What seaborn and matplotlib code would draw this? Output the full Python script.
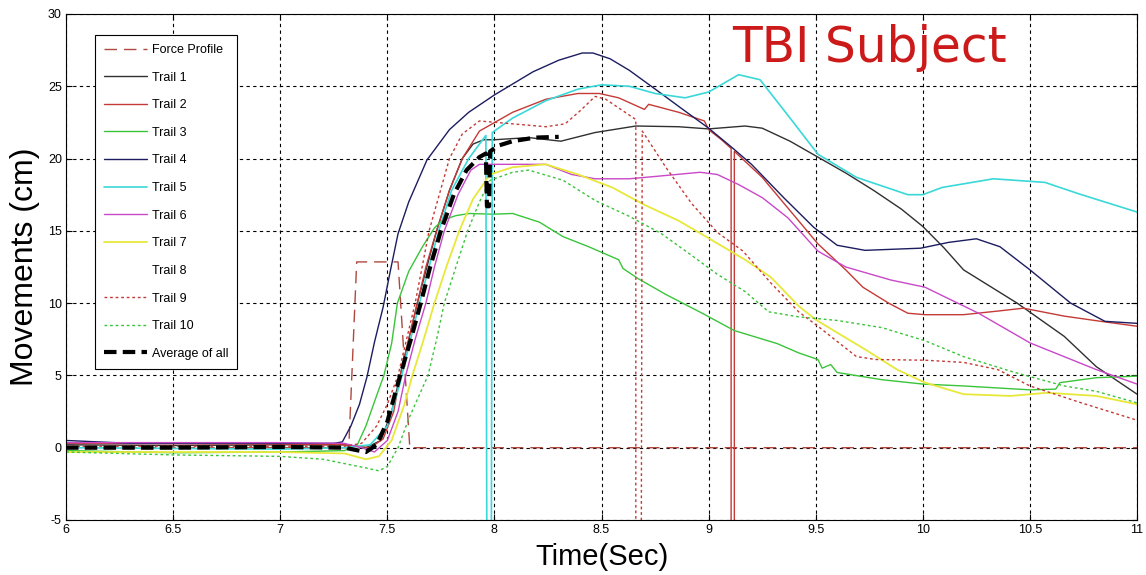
import matplotlib
matplotlib.use('Agg')
import matplotlib.pyplot as plt
import pandas as pd
import seaborn as sns
from matplotlib.ticker import FormatStrFormatter

sns.set_style('ticks')
plt.rcParams['font.family'] = ['Liberation Sans', 'DejaVu Sans']
plt.rcParams['axes.unicode_minus'] = False
for k in ['text.color', 'axes.labelcolor', 'xtick.color', 'ytick.color']:
    plt.rcParams[k] = 'black'

# force profile (square pulse)
force_t = [6.0, 7.32, 7.357, 7.55, 7.605, 11.0]
force_y = [0.0, 0.0, 12.85, 12.85, 0.0, 0.0]

trail1_t = [6.0, 6.5, 7.0, 7.3, 7.4, 7.47, 7.52, 7.56, 7.60, 7.64, 7.69, 7.73, 7.79, 7.85, 7.9, 7.95, 8.0,
            8.16, 8.31, 8.47, 8.66, 8.86, 9.0, 9.17, 9.25, 9.38, 9.51, 9.64, 9.77, 9.9, 10.0, 10.1, 10.19,
            10.44, 10.66, 10.81, 11.0]
trail1_y = [0.2, 0.15, 0.2, 0.2, 0.0, 0.5, 2.5, 5.0, 7.5, 10.0, 12.8, 15.0, 17.8, 20.0, 21.0, 21.3, 21.3,
            21.45, 21.2, 21.8, 22.25, 22.2, 22.05, 22.25, 22.1, 21.2, 20.1, 19.0, 17.8, 16.5, 15.3, 13.8, 12.3,
            10.0, 7.7, 5.6, 3.7]

trail2_t = [6.0, 7.0, 7.3, 7.42, 7.48, 7.53, 7.56, 7.60, 7.64, 7.68, 7.73, 7.79, 7.85, 7.93, 8.085, 8.24,
            8.39, 8.49, 8.58, 8.70, 8.72, 8.86, 8.98, 9.0, 9.06, 9.105, 9.105, 9.12, 9.12, 9.25, 9.38, 9.51,
            9.64, 9.72, 9.84, 9.93, 10.01, 10.19, 10.35, 10.47, 10.66, 10.85, 11.0]
trail2_y = [0.3, 0.25, 0.2, 0.0, 0.6, 2.5, 5.0, 7.5, 10.0, 12.5, 15.0, 17.8, 20.0, 21.9, 23.2, 24.1,
            24.5, 24.5, 24.2, 23.4, 23.75, 23.2, 22.6, 22.0, 21.3, 20.7, -10.0, -10.0, 20.5, 18.7, 16.4, 14.1,
            12.3, 11.1, 10.0, 9.3, 9.2, 9.2, 9.45, 9.65, 9.1, 8.7, 8.4]

trail3_t = [6.0, 6.5, 7.0, 7.3, 7.36, 7.4, 7.45, 7.484, 7.52, 7.547, 7.6, 7.664, 7.72, 7.758, 7.82, 7.883,
            7.99, 8.085, 8.21, 8.32, 8.44, 8.58, 8.6, 8.67, 8.8, 8.97, 9.12, 9.32, 9.42, 9.51, 9.53, 9.57,
            9.6, 9.81, 10.0, 10.19, 10.5, 10.62, 10.64, 10.81, 11.0]
trail3_y = [-0.2, -0.35, -0.3, -0.2, 0.2, 1.5, 3.6, 5.0, 7.2, 10.0, 12.2, 13.9, 15.2, 15.74, 16.05, 16.2,
            16.15, 16.2, 15.6, 14.6, 13.9, 13.0, 12.4, 11.7, 10.6, 9.3, 8.1, 7.2, 6.56, 6.1, 5.5, 5.75,
            5.2, 4.7, 4.4, 4.27, 4.0, 4.05, 4.5, 4.84, 4.95]

trail4_t = [6.0, 6.3, 7.0, 7.25, 7.29, 7.33, 7.37, 7.405, 7.44, 7.48, 7.515, 7.55, 7.6, 7.685, 7.79, 7.88,
            7.965, 8.0, 8.18, 8.3, 8.41, 8.46, 8.54, 8.63, 8.76, 8.87, 9.0, 9.11, 9.2, 9.35, 9.49, 9.6,
            9.73, 9.99, 10.12, 10.25, 10.36, 10.5, 10.69, 10.85, 11.0]
trail4_y = [0.5, 0.3, 0.3, 0.3, 0.4, 1.5, 3.0, 4.9, 7.3, 9.7, 12.3, 14.8, 17.0, 19.9, 22.0, 23.2,
            24.05, 24.4, 26.0, 26.8, 27.3, 27.3, 26.9, 26.1, 24.7, 23.5, 22.1, 20.75, 19.6, 17.3, 15.25, 14.0,
            13.65, 13.8, 14.2, 14.45, 13.9, 12.3, 10.0, 8.74, 8.6]

trail5_t = [6.0, 7.0, 7.3, 7.42, 7.5, 7.56, 7.6, 7.65, 7.70, 7.74, 7.80, 7.88, 7.96, 7.965, 7.985, 7.99,
            8.085, 8.24, 8.39, 8.5, 8.63, 8.75, 8.89, 9.0, 9.14, 9.24, 9.38, 9.51, 9.69, 9.93, 10.0, 10.09,
            10.33, 10.57, 10.73, 11.0]
trail5_y = [0.0, -0.1, 0.0, 0.2, 1.5, 4.5, 7.0, 10.0, 12.8, 15.0, 17.8, 20.0, 21.6, -10.0, -10.0, 21.8,
            22.8, 24.0, 24.8, 25.1, 25.0, 24.5, 24.2, 24.6, 25.8, 25.45, 22.8, 20.3, 18.7, 17.5, 17.5, 18.0,
            18.6, 18.35, 17.55, 16.3]

trail6_t = [6.0, 7.0, 7.3, 7.38, 7.44, 7.5, 7.55, 7.586, 7.63, 7.68, 7.72, 7.766, 7.83, 7.89, 7.93, 8.085,
            8.24, 8.36, 8.47, 8.63, 8.78, 8.96, 9.04, 9.14, 9.25, 9.37, 9.51, 9.64, 9.85, 10.01, 10.26, 10.5,
            10.81, 11.0]
trail6_y = [0.35, 0.35, 0.3, 0.0, -0.3, 0.5, 2.5, 5.0, 7.5, 10.0, 12.5, 15.0, 17.5, 19.2, 19.6, 19.6,
            19.6, 18.9, 18.6, 18.6, 18.8, 19.05, 18.9, 18.2, 17.3, 15.9, 13.6, 12.5, 11.6, 11.1, 9.3, 7.25,
            5.4, 4.4]

trail7_t = [6.0, 7.0, 7.3, 7.4, 7.46, 7.52, 7.58, 7.617, 7.67, 7.72, 7.78, 7.836, 7.9, 7.98, 8.085, 8.24,
            8.39, 8.55, 8.7, 8.86, 9.01, 9.17, 9.29, 9.42, 9.5, 9.73, 9.88, 10.01, 10.19, 10.41, 10.58, 10.81,
            11.0]
trail7_y = [-0.3, -0.3, -0.4, -0.8, -0.6, 0.5, 3.0, 5.0, 7.5, 10.0, 12.7, 15.0, 17.2, 18.9, 19.4, 19.6,
            18.9, 18.0, 16.8, 15.7, 14.4, 13.0, 11.8, 9.8, 8.85, 6.8, 5.4, 4.5, 3.7, 3.58, 3.8, 3.58,
            3.0]

trail8_t = [6.0, 7.3]
trail8_y = [0.0, 0.0]

trail9_t = [6.0, 7.0, 7.3, 7.38, 7.45, 7.5, 7.55, 7.63, 7.695, 7.79, 7.85, 7.93, 8.085, 8.24, 8.33, 8.4,
            8.47, 8.52, 8.6, 8.66, 8.66, 8.685, 8.69, 8.80, 8.92, 9.04, 9.16, 9.29, 9.42, 9.51, 9.69, 9.78,
            10.01, 10.19, 10.35, 10.5, 10.74, 11.0]
trail9_y = [0.1, 0.1, 0.1, 0.3, 1.5, 3.0, 5.0, 10.0, 15.0, 20.0, 21.7, 22.6, 22.4, 22.2, 22.4, 23.3,
            24.3, 24.1, 23.3, 22.7, -10.0, -10.0, 21.9, 19.4, 16.9, 14.9, 13.6, 11.4, 9.4, 8.4, 6.3, 6.1,
            6.05, 5.9, 5.4, 4.27, 3.1, 1.9]

trail10_t = [6.0, 6.5, 7.0, 7.2, 7.3, 7.4, 7.46, 7.5, 7.55, 7.6, 7.69, 7.73, 7.766, 7.82, 7.875, 7.93,
             7.98, 8.085, 8.16, 8.32, 8.47, 8.63, 8.78, 8.93, 9.04, 9.17, 9.28, 9.42, 9.6, 9.81, 10.01,
             10.19, 10.43, 10.66, 10.81, 11.0]
trail10_y = [-0.3, -0.5, -0.6, -0.8, -1.1, -1.4, -1.6, -1.3, 0.0, 2.0, 5.0, 7.5, 10.0, 12.5, 15.0, 17.0,
             18.5, 19.05, 19.2, 18.5, 17.1, 16.0, 14.8, 13.2, 12.0, 10.8, 9.4, 9.05, 8.8, 8.3, 7.4,
             6.3, 5.2, 4.27, 3.9, 3.1]

avg_t = [6.0, 6.5, 7.0, 7.3, 7.4, 7.45, 7.5, 7.56, 7.61, 7.656, 7.70, 7.75, 7.81, 7.87, 7.93, 7.96, 7.965,
         7.975, 7.98, 8.02, 8.085, 8.19, 8.3]
avg_y = [0.0, 0.0, 0.05, 0.0, -0.3, 0.2, 1.8, 5.0, 7.5, 10.0, 12.5, 15.0, 17.5, 19.2, 20.1, 20.35, 16.7,
         16.7, 20.5, 20.9, 21.2, 21.45, 21.5]

series = [
    ('Force Profile', force_t, force_y, '#b04840', (0, (9, 5)), 1.0),
    ('Trail 1', trail1_t, trail1_y, '#303030', '-', 1.0),
    ('Trail 2', trail2_t, trail2_y, '#c43a36', '-', 1.0),
    ('Trail 3', trail3_t, trail3_y, '#3ac43a', '-', 1.0),
    ('Trail 4', trail4_t, trail4_y, '#1c1c60', '-', 1.0),
    ('Trail 5', trail5_t, trail5_y, '#3ad8d8', '-', 1.2),
    ('Trail 6', trail6_t, trail6_y, '#c848c8', '-', 1.0),
    ('Trail 7', trail7_t, trail7_y, '#e8e83a', '-', 1.3),
    ('Trail 8', trail8_t, trail8_y, '#ffffff', '-', 1.0),
    ('Trail 9', trail9_t, trail9_y, '#c43a36', (0, (2, 2)), 1.0),
    ('Trail 10', trail10_t, trail10_y, '#3ac43a', (0, (2, 2)), 1.0),
    ('Average of all', avg_t, avg_y, '#000000', (0, (3, 1.5)), 3.0),
]

fig = plt.figure(figsize=(11.46, 5.75), dpi=100)
ax = fig.add_axes([0.0576, 0.0957, 0.9346, 0.88])

for name, t, y, col, ls, lw in series:
    df = pd.DataFrame({'t': t, 'y': y})
    sns.lineplot(data=df, x='t', y='y', ax=ax, color=col, linestyle=ls, linewidth=lw,
                 label=name, sort=False, estimator=None, zorder=0.8 if name == 'Trail 8' else 2)

ax.set_xlim(6, 11)
ax.set_ylim(-5, 30)
ax.set_xticks([6 + 0.5 * i for i in range(11)])
ax.set_yticks(range(-5, 31, 5))
ax.xaxis.set_major_formatter(FormatStrFormatter('%g'))
ax.tick_params(direction='in', top=True, right=True, labelsize=9, length=4, pad=3)
ax.grid(True, color='black', linestyle=(0, (3, 3)), linewidth=0.8)
for sp in ax.spines.values():
    sp.set_color('black')
    sp.set_linewidth(0.8)

ax.set_xlabel('Time(Sec)', fontsize=21, labelpad=5)
ax.set_ylabel('Movements (cm)', fontsize=23, labelpad=6)

ax.text(9.75, 27.65, 'TBI Subject', color='#cc1a1a', fontsize=35, ha='center', va='center',
        family=['DejaVu Sans'])

leg = ax.legend(loc='upper left', bbox_to_anchor=(0.027, 0.958), borderaxespad=0, fontsize=9,
                handlelength=3.45, labelspacing=1.25, fancybox=False, framealpha=1, edgecolor='black',
                borderpad=0.7, handletextpad=0.4)
leg.get_frame().set_linewidth(0.8)

fig.savefig('out.png', dpi=100)
